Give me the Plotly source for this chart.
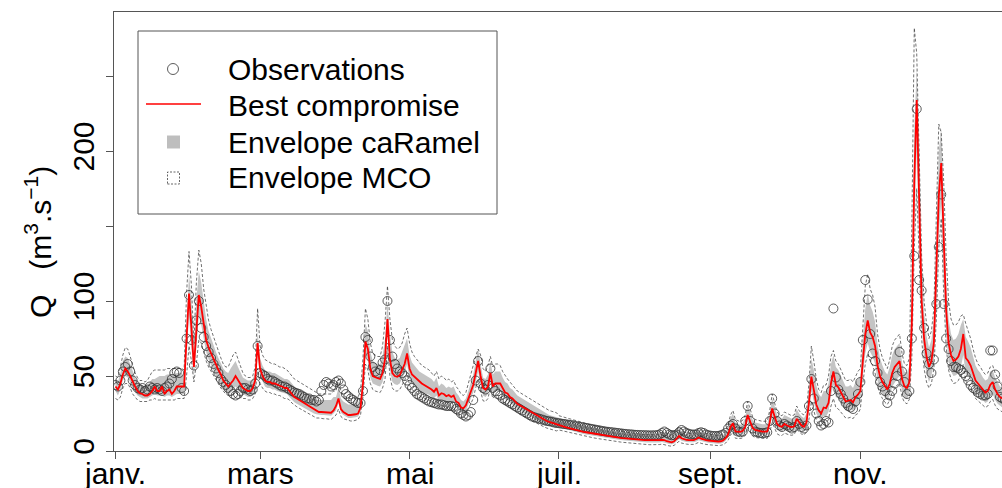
import pandas as pd
import plotly.graph_objects as go

# ---------------- data (daily values, m3/s) ----------------
obs = [
 44,43,47,53,56,58,53,47,44,42,41,42,40,41,43,42,41,42,41,40,42,43,45,48,52,53,52,42,40,75,104,
 74,57,87,100,82,76,70,66,62,58,55,52,48,46,44,42,40,38,37,38,40,42,42,41,40,41,45,70,
 52,51,50,48,47,47,46,45,44,43,43,42,41,40,39,38.5,38,37,36,35,35,34,34,33,34,40,44,46,45,43,44,
 46,47,45,41,38,36.5,35,34,33,32,32,40,76,74,63,56,53,52,54,59,61,100,74,63,58,55,53,52,50,47,
 44,42,40,38,37,36,35,34,33,32.5,32,31.5,31,31,30.5,30,30,30,29.5,28,27,25,24,23,24,26,34,47,60,45,42,
 41,44,55,42,40,38,37,35,34,33,32,31,30,29,28,27,26,25,24,23,22.5,22,21.5,21,20.5,20,19.8,19.5,19,18.7,
 18.5,18.2,18,17.8,17.5,17.3,17,16.6,16.3,16,15.7,15.4,15.1,14.8,14.5,14.2,13.9,13.6,13.3,13,12.8,12.6,12.4,12.2,12,11.8,11.6,11.4,11.2,11.1,11,
 10.8,10.7,10.6,10.6,10.5,10.5,10.4,10.4,10.5,10.5,11,12,13,12,11,10.5,10.5,11,12.5,14,13,12,11.5,11,11,11,12,12.5,12,11,10.5,
 10.2,10,10,10,10.5,11,12,15,17,18,15,13,12.5,13,20,30,20,15,13,12.5,12,12,12,12.5,20,35,25,20,17,16,
 18,17,16,15,16,20,18,16,15,17,30,48,35,25,20,17,18,20,19,40,95,49,41,38,35,32,30,29,28,33,38,
 46,74,114,101,78,65,60,52,46,43,40,32,37,40,45,50,66,53,46,38,40,75,130,228,114,107,82,65,58,52,
 61,98,136,171,98,75,68,60,56,56,55,54,52,50,47,44,42,41,39,38,37,37,38,67,67,51,43,36,35,34,33,
]

sim = [
 43,41,45,51,55,53,50,46,43,40,38.5,38,37,37,38,40,43,40,40,43,38,40,41,38,40,43,43,43,43,75,105,
 82,56,80,104,96,84,74,69,65,62,57,54,51,47,45,43,45,47,50,47,44,42,41,40,40,42,47,72,
 55,50,47,46,46,45,45,44,43.5,43,42,42,40,38,36,35,34,33,32,30.5,29.5,28.5,27.5,26.5,26,26,26,26,25.5,25.5,27,
 30,35,28,26,25,24,24,24,24.5,25,29,45,73,68,55,50,49,48.5,48,52,61,88,61,52,50,49.5,50.5,54,58,65,
 55,51,49.5,47.5,46,45,44,43,42.5,41,39.5,42,37,38.5,38,36.5,37.3,36,37,33,32,29,28.5,30.5,35,40,44,52,60,50,42,
 41,43,52,43,45,45,45,42,39,38.4,36,35,33,31.5,30.5,29.5,28.5,27.5,26.5,25.5,24.5,23.5,22.5,21.5,20.8,20,19.4,18.8,18.3,17.8,
 17.3,16.8,16.3,15.8,15.3,14.8,14.3,13.9,13.5,13.1,12.8,12.5,12.2,11.9,11.6,11.3,11,10.7,10.4,10.1,9.9,9.6,9.4,9.2,9,8.8,8.6,8.4,8.2,8,7.8,
 7.7,7.6,7.5,7.4,7.3,7.2,7.1,7,7,7,7.2,7.5,7.3,6.5,6,5.8,6.5,8.5,10,8.5,7.8,7.5,7.3,7.2,7.3,8,9,8.2,7.6,7.3,7,
 6.8,6.5,6.3,6.2,6.5,7,8.5,11,16,18.5,13,12.8,12.8,13.5,16,24,19,15.5,14,13.5,13,12.9,12.9,13,19,28.4,23,18,16.5,16.2,
 18,17,16.2,16,16.5,21.5,19,17,16.2,19,32,49.6,40.7,31,27,25,29,28.5,32,45,53,44,42.5,39,36,33,33.5,34,32.5,36,37.5,
 40,60,78,87,79,76,70,57,50,46,43,41,45,52,56,58,60,48,43,42,46,85,180,234,170,100,75,63,56,60,
 72,116,170,192,138,94,72,64,60,61,63,68,78,62,60,57,52,47,45,43,41,39,40,44,46,41,38,36,35,34,34,
]

caramel_hi = [
 48,46,52,60,63,62,58,53,49,46,44,44,43,44,46,48,48,49,50,50,50,51,51,51,51,52,52,52,50,90,118,
 100,66,100,120,112,98,88,80,75,71,66,62,58,55,53,52,55,58,60,56,52,49,48,47,47,48,52,80,
 62,57,54,53,53,52,52,51,50,49,48,48,47,45,43,42,41,40,39,38,37,36,35,34,34,34,34,34,34,34,36,
 36,42,35,33,32,31,31,31,31,32,36,55,85,80,66,60,59,58,58,63,75,100,78,66,62,61,62,66,70,75,
 64,59,57,55,53,52,51,50,49,48,46,49,43,45,44,42,43,42,43,39,37,34,33,35,40,46,51,60,68,58,49,
 48,51,60,51,53,53,53,49,46,45,42,41,39,37,36,35,34,33,32,31,29.5,28.5,27.5,26.5,25.5,24.5,24,23.5,23,22.5,
 22,21.5,21,20.5,20,19.5,19,18.5,18,17.6,17.2,16.8,16.4,16,15.6,15.2,14.8,14.4,14,13.7,13.4,13.1,12.8,12.5,12.2,12,11.8,11.6,11.4,11.2,11,
 10.9,10.8,10.7,10.6,10.5,10.4,10.3,10.2,10.2,10.3,10.8,11.8,12,11,10.3,10,10.8,13,15,13,11.8,11.3,11,10.8,11,12,13.5,12.5,11.5,11,10.5,
 10.2,9.8,9.5,9.4,9.8,10.5,12.5,16,22,25,19,18,17.5,18.5,22,31,26,21,19,18.5,18,17.8,17.8,18,25,35,30,24,22,21.5,
 24,23,22,21.5,22,28,25,23,22,25,42,62,54,44,38,36,40,40,45,58,64,56,54,50,46,43,43,44,42,46,48,
 50,75,95,105,97,93,86,71,62,57,53,51,56,64,68,70,72,59,53,52,57,110,215,255,205,125,93,77,69,74,
 88,140,200,215,168,115,88,78,74,75,78,84,88,76,73,69,63,57,54,52,49,47,48,53,54,49,46,43,42,41,41,
]

caramel_lo = [
 40,37,41,47,50,49,46,42,39,37,36,35,35,35,36,37,38,37,37,37,36,37,37,36,37,38,38,38,38,62,90,
 68,50,68,90,84,74,66,61,57,54,50,47,45,42,40,39,40,41,43,41,39,38,37,36,36,37,41,64,
 50,46,43,42,42,41,41,40,39.5,39,38,38,36,34,32.5,31.5,30.5,30,29,28,27,26,25,24.5,24,24,24,24,23.5,23.5,25,
 27,32,25.5,24,23,22,22,22,22.5,23,26,40,65,60,49,45,44,43.5,43,46,54,78,54,46,44.5,44,45,48,52,58,
 48,45,43.5,42,40.5,39.5,38.5,38,37.5,36,35,37,32.5,34,33.5,32,33,32,32.5,29,28,25.5,25,27,31,35,39,46,53,44,37,
 36,38,46,38,40,40,40,37,34.5,34,32,31,29,28,27,26,25,24,23.5,22.5,21.5,20.5,19.5,18.5,18,17.3,16.8,16.3,15.8,15.4,
 15.8,15.3,14.8,14.3,13.8,13.3,12.8,12.4,12,11.6,11.3,11,10.7,10.4,10.1,9.8,9.5,9.2,8.9,8.6,8.4,8.1,7.9,7.7,7.5,7.3,7.1,6.9,6.7,6.5,6.3,
 6.2,6.1,6,5.9,5.8,5.7,5.6,5.5,5.5,5.5,5.7,6,5.8,5.1,4.7,4.5,5,6.8,8,6.8,6.2,6,5.8,5.7,5.8,6.4,7.2,6.6,6,5.8,5.5,
 5.3,5,4.9,4.8,5,5.5,6.8,9,13,15,10.5,10.3,10.3,11,13,19.5,15.5,12.5,11.3,11,10.5,10.4,10.4,10.5,15.5,23,18.5,14.5,13.3,13,
 14.5,13.7,13,12.8,13.2,17.5,15.3,13.7,13,15.3,26,40,33,25,22,20,23.5,23,26,37,44,36,35,32,29.5,27,27.5,28,26.5,29.5,30.5,
 33,50,65,72,66,63,58,47,41,38,35.5,34,37,43,46,48,50,40,35.5,34.5,38,70,150,200,145,84,62,52,46,50,
 60,96,145,165,115,78,60,53,50,50.5,52,56,64,51,50,47,43,39,37,35.5,34,32,33,36.5,38,34,31.5,30,29,28,28,
]

mco_hi = [
 50,49,56,64,69,68,63,57,52,49,47,47,46,47,50,53,54,54,54,54,54,55,55,55,55,55,55,55,54,105,133,
 110,72,112,134,125,108,96,87,81,76,71,66,62,58,56,56,60,64,66,61,56,52,50,49,49,50,56,95,
 70,64,61,60,59,58,58,57,56,56,55,54,52,50,48,47,46,45,44,43,42,41,40,39,38,38,38,38,38,38,40,
 40,48,40,37,36,35,35,35,35,36,40,62,95,88,72,65,64,63,63,70,86,110,88,74,70,68,69,72,78,82,
 72,66,63,61,59,57,56,55,54,52,50,53,48,50,49,47,48,46,47,43,41,38,37,39,45,52,58,63,68,64,55,
 53,57,63,56,58,58,57,53,50,48,46,44,42,40,39,38,37,36,35,34,32.5,31.5,30.5,29.5,28.5,27.5,27,26.5,26,25.5,
 23.5,23,22.5,22,21.5,21,20.5,20,19.5,19,18.6,18.2,17.8,17.4,17,16.6,16.2,15.8,15.4,15,14.7,14.4,14.1,13.8,13.5,13.2,12.9,12.6,12.3,12,11.8,
 11.6,11.4,11.2,11,10.9,10.8,10.7,10.6,10.6,10.7,11.3,12.5,12.8,11.8,11,10.7,11.5,14,16.5,14.2,12.8,12.2,11.8,11.6,11.8,13,14.8,13.6,12.4,11.8,11.3,
 11,10.6,10.3,10.2,10.6,11.5,13.5,17.5,24,27,21,20,19.5,20.5,24,33,28,23,21,20.5,20,19.8,19.8,20,27,38,32,26,24,23.5,
 26,25,24,23.5,24,30,27,25,24,27,45,70,60,48,41,39,44,44,50,63,67,60,58,54,50,47,47,48,46,50,53,
 55,85,110,118,108,104,96,78,68,62,58,55,61,70,74,76,78,65,58,57,62,150,282,265,200,130,100,85,75,80,
 95,165,218,212,180,130,100,88,84,84,86,90,91,85,80,75,68,62,58,56,53,51,52,56,57,52,49,46,45,44,44,
]

mco_lo = [
 35,34,36,42,45,45,42,38,36,34,33,33,33,33,34,34,35,34,34,34,34,34,34,34,34,35,35,35,35,50,70,
 60,46,58,74,72,66,60,56,53,50,47,44,42,40,38,37,37,38,39,38,36,35,35,34,34,35,38,55,
 45,42,40,39,39,38,38,37,37,36,35,35,34,32,30.5,29.5,28.5,27.5,26.5,25.5,24.5,24,23,22,22,21.5,21.5,21.5,21,21,22.5,
 24,28,23,21.5,21,20,20,20,20.5,21,24,36,58,54,45,41,40,39.5,39,42,48,70,50,42,40,40,41,44,47,52,
 44,41,39.5,38,37,36,35,34.5,34,33,31.5,33.5,29.5,30.5,30,29,29.5,28.5,29,26,25,23,22.5,24,28,32,35,42,48,40,33.5,
 33,35,42,35,37,37,37,34,31.5,31,29,28,26.5,25.5,24.5,23.5,22.5,22,21,20,19,18.5,17.5,16.5,16,15.3,14.8,14.3,13.8,13.4,
 14,13.6,13.2,12.8,12.4,12,11.5,11.1,10.7,10.3,10,9.7,9.4,9.1,8.8,8.5,8.2,7.9,7.6,7.3,7.1,6.8,6.6,6.4,6.2,6,5.8,5.6,5.4,5.2,5,
 4.8,4.7,4.6,4.5,4.4,4.3,4.2,4.1,4.1,4.1,4.3,4.6,4.4,3.8,3.4,3.2,3.8,5.3,6.5,5.3,4.8,4.6,4.4,4.3,4.4,5,5.8,5.1,4.6,4.4,4.2,
 4,3.8,3.7,3.6,3.8,4.2,5.3,7.2,10.5,12.5,8.5,8.3,8.3,8.8,10.5,16,12.5,10,9,8.7,8.4,8.3,8.3,8.4,12.5,19,15,11.5,10.5,10.3,
 12,11.3,10.7,10.5,11,14.5,12.7,11.3,10.7,12.7,21,33,27,20.5,17.8,16.5,19,18.8,21,30,35,29,28,26,24,22,22,22.5,21.5,24,25,
 28,45,58,65,60,57,52,43,38,35,32.5,31,34,39,42,44,45,36,32.5,31.5,34.5,62,135,175,130,75,55,46,42,45,
 55,88,135,155,105,70,54,48,45,45.5,47,51,58,46.5,45,42.5,39,35,33.5,32,30.5,29,30,33,34.5,30.5,28,27,26,25,25,
]

month_ticks = ["2002-01-01", "2002-03-01", "2002-05-01", "2002-07-01", "2002-09-01", "2002-11-01"]
month_labels = ["janv.", "mars", "mai", "juil.", "sept.", "nov."]
y_ticks = [0, 50, 100, 150, 200, 250]
y_labels = ["0", "50", "100", "", "200", ""]

for s in (obs, sim, caramel_hi, caramel_lo, mco_hi, mco_lo):
    assert len(s) == 365, len(s)

dates = pd.date_range("2002-01-01", periods=365, freq="D")

# ---------------- figure ----------------
W, H = 1002, 488
L, T, B = 114, 12, 451          # plot area pixel edges
PW, PH = W - L, B - T
FONT = "Arial, Liberation Sans, sans-serif"
FS = 30

def px(x):
    return (x - L) / PW

def py(y):
    return (B - y) / PH

fig = go.Figure()
fig.add_trace(go.Scatter(x=dates, y=caramel_lo, mode="lines", line=dict(width=0, color="#bebebe"),
                         showlegend=False, hoverinfo="skip"))
fig.add_trace(go.Scatter(x=dates, y=caramel_hi, mode="lines", line=dict(width=0, color="#bebebe"),
                         fill="tonexty", fillcolor="#c4c4c4", showlegend=False, hoverinfo="skip"))
for s in (mco_hi, mco_lo):
    fig.add_trace(go.Scatter(x=dates, y=s, mode="lines",
                             line=dict(width=0.7, color="#333333", dash="3px,2px"),
                             showlegend=False, hoverinfo="skip"))
fig.add_trace(go.Scatter(x=dates, y=obs, mode="markers",
                         marker=dict(symbol="circle-open", size=9, color="#333333", line=dict(width=0.8)),
                         showlegend=False))
fig.add_trace(go.Scatter(x=dates, y=sim, mode="lines", line=dict(width=1.8, color="#ff0000"),
                         showlegend=False))

x_start = dates[0] - pd.Timedelta(hours=0.61 * 24)
x_end = dates[0] + pd.Timedelta(hours=361.8 * 24)

fig.update_layout(
    width=W, height=H,
    margin=dict(l=L, r=0, t=T, b=H - B, pad=0, autoexpand=False),
    paper_bgcolor="white", plot_bgcolor="white",
    font=dict(family=FONT, size=FS, color="black"),
    showlegend=False,
    xaxis=dict(range=[x_start, x_end], showgrid=False, zeroline=False, automargin=False,
               showline=True, mirror=True, linecolor="#555555", linewidth=1,
               ticks="outside", ticklen=7, tickcolor="#555555", tickwidth=1,
               tickvals=month_ticks, showticklabels=False),
    yaxis=dict(range=[0, PH / 1.5], showgrid=False, zeroline=False, automargin=False,
               showline=True, mirror=False, linecolor="#555555", linewidth=1,
               ticks="outside", ticklen=7, tickcolor="#555555", tickwidth=1,
               tickvals=y_ticks, ticktext=y_labels, tickangle=-90,
               tickfont=dict(size=FS, family=FONT, color="black")),
)

shapes = []
# legend box
shapes.append(dict(type="rect", xref="paper", yref="paper",
                   x0=px(138), x1=px(497), y0=py(214), y1=py(31),
                   line=dict(color="#555555", width=1), fillcolor="white", layer="above"))
shapes.append(dict(type="circle", xref="paper", yref="paper",
                   x0=px(167.5), x1=px(178.5), y0=py(74.5), y1=py(63.5),
                   line=dict(color="#333333", width=0.8), layer="above"))
shapes.append(dict(type="line", xref="paper", yref="paper",
                   x0=px(146), x1=px(201), y0=py(104), y1=py(104),
                   line=dict(color="#ff0000", width=1.5), layer="above"))
shapes.append(dict(type="rect", xref="paper", yref="paper",
                   x0=px(167), x1=px(180), y0=py(148.5), y1=py(135.5),
                   line=dict(width=0), fillcolor="#bebebe", layer="above"))
shapes.append(dict(type="rect", xref="paper", yref="paper",
                   x0=px(167.5), x1=px(179.5), y0=py(184), y1=py(172),
                   line=dict(color="#222222", width=0.7, dash="2px,1.5px"), layer="above"))
fig.update_layout(shapes=shapes)

legend_texts = ["Observations", "Best compromise", "Envelope caRamel", "Envelope MCO"]
legend_rows = [69, 105, 142, 178]
annotations = []
for txt, yy in zip(legend_texts, legend_rows):
    annotations.append(dict(text=txt, xref="paper", yref="paper", x=px(226), y=py(yy),
                            xanchor="left", yanchor="middle", showarrow=False,
                            font=dict(size=FS, family=FONT, color="black")))
# month labels under the x ticks
for tv, tl in zip(month_ticks, month_labels):
    annotations.append(dict(text=tl, xref="x", yref="paper", x=tv, y=py(473),
                            xanchor="center", yanchor="middle", showarrow=False,
                            font=dict(size=FS, family=FONT, color="black")))
annotations.append(dict(text="Q&nbsp;&nbsp;&nbsp;(m<sup>3</sup>.s<sup>\u22121</sup>)", xref="paper", yref="paper",
                        x=px(38), y=py(242), xanchor="center", yanchor="middle", textangle=-90,
                        showarrow=False, font=dict(size=FS, family=FONT, color="black")))
fig.update_layout(annotations=annotations)

fig.write_html("out.html")
